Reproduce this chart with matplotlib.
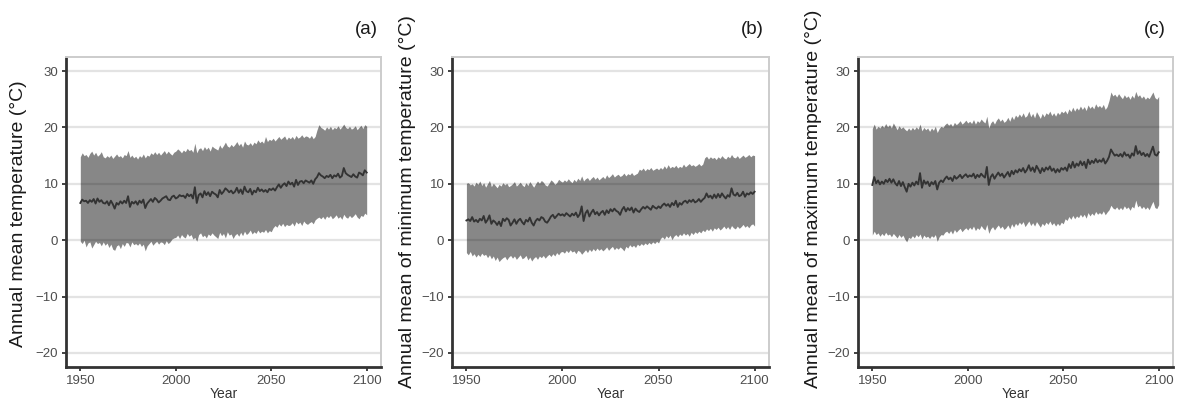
import numpy as np
import matplotlib
matplotlib.use("Agg")
import matplotlib.pyplot as plt

plt.rcParams['font.family'] = ['Liberation Sans', 'DejaVu Sans']

years = list(range(1950, 2101))

# Panel (a): annual mean temperature
mean_a = [
    6.6, 7.2, 6.9, 7.0, 6.6, 7.1, 6.8, 7.3, 6.5, 7.4,
    6.8, 7.1, 6.6, 6.5, 6.9, 6.2, 7.0, 6.4, 5.6, 6.6,
    6.3, 6.9, 6.5, 7.0, 6.6, 7.8, 5.9, 6.8, 6.5, 6.9,
    6.3, 7.0, 6.6, 7.2, 5.7, 6.5, 6.9, 7.3, 6.8, 7.5,
    7.2, 6.7, 7.0, 7.4, 7.6, 7.8, 7.2, 7.1, 7.7, 7.9,
    7.4, 7.6, 8.0, 7.8, 7.9, 7.5, 8.2, 7.8, 8.1, 7.4,
    9.4, 6.6, 8.0, 8.3, 7.6, 8.7, 8.0, 8.5, 7.8, 8.6,
    8.3, 8.1, 7.6, 8.9, 8.2, 8.6, 9.2, 8.9, 8.5, 8.8,
    8.3, 8.6, 9.3, 8.4, 9.0, 8.2, 9.5, 8.7, 8.5, 9.1,
    8.1, 8.8, 8.5, 9.3, 8.7, 9.0, 8.6, 8.9, 8.5, 9.1,
    8.9, 9.2, 8.8, 9.4, 9.9, 9.3, 9.8, 10.1, 9.6, 10.4,
    9.9, 10.2, 9.5, 10.7, 9.8, 10.4, 10.5, 10.1, 10.6, 10.4,
    10.2, 10.6, 10.0, 10.8, 11.2, 11.9, 11.5, 11.3, 11.0, 11.4,
    11.2, 11.6, 11.0, 11.5, 11.3, 11.8, 11.1, 11.4, 12.8, 11.9,
    11.6, 11.4, 11.2, 11.7, 11.3, 11.1, 12.0, 11.8, 11.5, 12.4,
    12.0]
upper_a = [
    14.8, 15.5, 15.0, 15.2, 14.7, 15.4, 15.8, 15.1, 15.6, 14.9,
    15.2, 15.7, 14.8, 14.6, 15.0, 14.7, 15.1, 14.5, 14.9, 15.3,
    14.8, 15.0, 14.6, 15.2, 15.0, 15.9, 14.7, 15.1, 14.6, 14.9,
    14.4, 15.0, 14.7, 15.3, 14.6, 15.1, 14.9, 15.5, 15.2, 15.7,
    15.2, 15.6, 15.1, 15.5, 15.9, 15.3, 15.8, 15.4, 15.1, 15.6,
    15.8, 16.2, 15.9, 15.5, 16.0, 15.7, 16.3, 15.9, 16.1, 15.6,
    17.2, 15.5, 16.2, 16.4, 15.9, 16.6, 16.1, 16.5, 15.8, 16.7,
    16.4, 16.2, 16.0, 16.9, 16.3, 16.8, 17.4, 16.7, 16.5, 17.0,
    16.6, 17.0, 17.5, 16.8, 17.2, 16.5, 17.6, 17.0, 16.9, 17.3,
    16.8, 17.4, 17.1, 17.8, 17.3, 17.6, 17.2, 18.4, 17.5, 17.9,
    17.7, 18.1, 17.6, 18.0, 18.4, 17.9, 18.2, 18.5, 17.8, 18.3,
    18.0, 18.4, 17.9, 18.6, 18.1, 18.3, 18.7, 18.2, 18.5, 18.4,
    18.1, 18.6, 18.0, 18.4, 19.6, 20.5, 20.0, 19.8, 19.5, 20.1,
    19.7, 20.2, 19.6, 20.0, 19.8, 20.3, 19.7, 20.1, 20.6, 20.0,
    19.8, 20.2, 19.7, 19.9, 20.3, 19.6, 20.0, 20.4, 19.8, 20.5,
    20.2]
lower_a = [
    -0.2, -0.6, 0.0, -1.2, -0.5, -0.3, -1.4, -0.8, -0.2, -0.6,
    -0.4, -1.0, -0.3, -0.9, -0.5, -1.3, -0.7, -1.6, -1.8, -1.0,
    -0.8, -1.5, -0.6, -1.1, -0.4, -0.5, -1.2, -0.3, -0.8, -0.6,
    -0.9, -0.5, -1.1, -0.7, -1.9, -1.0, -0.6, -0.2, -0.9, -0.5,
    -0.2, -0.7, -0.3, -0.4, -0.8, -0.1, -0.6, -0.3, 0.2, 0.4,
    0.5, 0.9, 0.3, 1.0, 0.6, 0.4, 1.2, 0.7, 1.0, 0.2,
    0.5, -0.2, 1.0, 1.3, 0.6, 0.9, 0.4, 1.1, 0.8, 1.3,
    0.9, 0.6, 0.3, 1.4, 0.8, 1.2, 0.4, 1.5, 0.9, 1.1,
    0.3, 0.9, 1.2, 0.7, 1.4, 0.8, 1.6, 1.0, 1.3, 1.8,
    1.1, 1.5, 1.2, 1.8, 1.3, 1.6, 1.4, 1.9, 1.3, 1.7,
    1.5, 2.2, 2.6, 2.3, 2.9, 2.5, 3.0, 2.4, 2.8, 2.6,
    2.7, 3.1, 2.5, 3.3, 2.9, 3.2, 2.6, 3.4, 3.0, 2.8,
    3.1, 3.3, 2.9, 3.6, 3.9, 4.1, 3.8, 4.2, 3.7, 4.3,
    4.0, 4.4, 3.8, 4.1, 4.5, 3.9, 4.2, 3.7, 4.6, 4.1,
    3.9, 4.4, 4.0, 4.3, 4.7, 4.1, 3.8, 4.4, 4.2, 4.8,
    4.5]

# Panel (b): annual mean of minimum temperature
mean_b = [
    3.5, 3.7, 3.4, 4.1, 3.3, 3.6, 3.2, 3.8, 3.5, 4.3,
    3.1, 3.6, 4.4, 2.9, 3.5, 3.2, 2.7, 3.3, 2.5, 3.8,
    3.4, 3.9, 3.6, 2.6, 3.1, 3.7, 2.9, 3.5, 3.8, 3.2,
    2.8, 3.6, 3.3, 4.0, 3.1, 2.6, 3.4, 3.8, 3.5, 4.1,
    3.9, 3.3, 3.1, 3.6, 4.2, 4.5, 3.9, 4.3, 4.7, 4.4,
    4.6, 4.3, 4.8, 4.5, 4.2, 4.7, 4.4, 4.9, 4.1, 4.6,
    6.0, 3.4, 4.8, 5.3, 4.2, 4.9, 5.4, 4.6, 5.0, 4.4,
    4.9, 5.2, 4.5, 5.3, 4.8, 5.5, 5.1, 5.6, 5.2, 5.0,
    4.5, 5.4, 5.9, 5.1, 5.7, 5.3, 5.8, 4.9, 5.6, 5.2,
    5.0, 5.5, 5.9, 5.6, 6.0, 5.7, 5.4, 6.1, 5.8, 5.6,
    6.0, 5.7, 6.2, 6.5, 6.1, 6.4, 5.9, 6.6, 6.2, 7.0,
    5.9, 6.6, 6.3, 6.8, 7.0, 6.6, 7.1, 6.8, 7.2, 6.7,
    6.9, 7.3, 6.8, 7.2, 7.5, 8.3, 7.6, 7.9, 7.4, 8.1,
    7.5, 8.2, 7.6, 8.3, 7.8, 7.4, 8.0, 7.7, 9.2, 8.1,
    7.9, 8.4, 7.8, 8.0, 8.6, 7.7, 8.3, 8.1, 8.5, 8.2,
    8.6]
upper_b = [
    10.1, 10.2, 9.8, 10.0, 9.6, 10.3, 9.9, 10.5, 9.7, 10.2,
    9.4, 10.0, 10.6, 9.5, 10.1, 9.7, 9.3, 9.9, 9.6, 10.2,
    9.8, 10.1, 9.5, 9.7, 10.0, 10.4, 9.6, 9.9, 10.3, 9.8,
    9.5, 10.2, 9.7, 10.4, 9.9, 9.4, 10.0, 10.5, 10.1, 10.6,
    10.3, 9.8, 9.6, 10.1, 10.7, 10.4, 9.9, 10.2, 10.8, 10.5,
    10.3, 10.7, 10.4, 10.9, 10.5, 10.2, 10.8, 10.4, 11.0, 10.6,
    11.4, 10.5, 10.9, 11.1, 10.6, 11.0, 11.3, 10.8, 11.2, 10.7,
    11.0, 11.3, 10.9, 11.6, 11.1, 11.4, 11.8, 11.2, 11.5, 11.7,
    11.3, 11.5, 11.9, 11.4, 11.8, 11.6, 12.0, 11.5, 11.7, 11.9,
    12.6, 12.4, 12.8, 12.3, 12.7, 12.5, 12.9, 12.4, 12.6, 12.8,
    12.5, 12.9, 12.6, 13.2, 12.7, 13.4, 12.8, 13.1, 12.9, 13.3,
    12.8, 13.1, 12.9, 13.5, 13.0, 13.3, 13.6, 13.2, 13.4, 13.1,
    13.3, 13.6, 13.2, 13.5, 14.6, 14.9, 14.4, 14.8, 14.5, 14.7,
    14.3, 14.8, 14.5, 15.0, 14.6, 14.4, 14.9, 14.6, 15.2, 14.7,
    14.6, 15.0, 14.5, 14.8, 15.1, 14.7, 14.9, 15.2, 14.8, 15.1,
    15.0]
lower_b = [
    -2.2, -2.6, -2.0, -2.8, -2.4, -3.0, -2.5, -2.9, -2.3, -2.7,
    -2.5, -3.1, -2.6, -3.3, -2.8, -3.6, -3.0, -3.8, -3.4, -3.1,
    -2.9, -3.5, -3.0, -2.7, -3.2, -2.8, -3.4, -3.0, -2.6, -3.3,
    -3.1, -2.7, -3.5, -3.0, -3.7, -3.2, -2.9, -3.4, -2.8, -3.1,
    -2.7, -3.2, -2.8, -2.5, -2.9, -2.4, -2.8, -2.2, -2.6, -2.1,
    -2.0, -2.3, -1.8, -2.2, -1.7, -2.1, -1.9, -2.4, -1.8, -2.0,
    -2.5, -2.1, -1.7, -2.2, -1.6, -2.0, -1.5, -1.9, -1.4, -1.8,
    -1.5, -1.9, -1.6, -1.2, -1.8, -1.4, -1.1, -1.7, -1.3, -1.6,
    -1.2, -1.5, -1.9, -1.1, -1.4, -0.8, -1.2, -0.9, -1.3, -0.7,
    -1.0, -0.6, -0.9, -0.5, -0.8, -0.4, -0.7, -0.3, -0.6, -0.2,
    -0.5, 0.3, 0.6, 0.2, 0.8, 0.4, 0.9, 0.1, 0.7, 1.0,
    0.6, 1.1, 0.8, 1.3, 0.9, 1.2, 0.7, 1.4, 1.0, 1.5,
    1.2, 1.6, 1.3, 1.8, 1.5, 2.0, 1.7, 2.1, 1.6, 2.2,
    1.9, 2.3, 1.8, 2.1, 2.5, 2.0, 2.4, 1.9, 2.6, 2.2,
    2.0, 2.5, 2.1, 2.4, 2.8, 2.3, 2.6, 2.2, 2.7, 2.9,
    2.5]

# Panel (c): annual mean of maximum temperature
mean_c = [
    9.8, 11.2, 10.1, 10.6, 9.9, 10.4, 10.0, 10.7, 10.3, 10.9,
    10.2, 10.8, 10.1, 9.7, 10.5, 9.6, 10.3, 9.4, 8.6, 10.0,
    9.5, 10.2, 9.7, 10.4, 9.9, 11.9, 9.3, 10.6, 10.0, 10.4,
    9.6, 10.3, 9.9, 10.5, 9.0, 10.2, 10.6, 10.3, 10.9, 11.3,
    10.8, 11.1, 10.5, 11.4, 10.9, 11.2, 11.6, 11.0, 11.4, 11.7,
    11.2, 11.5, 11.3, 11.8, 11.0, 11.6, 11.2, 11.8, 11.4, 11.1,
    13.0, 9.8, 11.2, 11.7, 10.9, 11.5, 12.0, 11.4, 11.8, 11.1,
    11.6, 12.1, 11.3, 12.3, 11.7, 12.4, 12.0, 12.6, 12.2, 12.8,
    12.0, 12.5, 13.3, 12.3, 12.9, 12.1, 13.2, 12.6, 11.9, 12.8,
    12.2, 12.9, 12.5, 13.1, 12.3, 12.7, 12.0, 12.6, 12.1, 12.8,
    12.5, 12.9, 12.3, 13.5, 12.8, 13.9, 12.9, 13.6, 13.2, 14.0,
    13.3, 13.9, 12.8, 14.3, 13.5, 14.1, 13.7, 14.4, 13.8, 14.2,
    13.9, 14.5, 13.6, 14.1, 14.8, 16.1, 15.5, 15.0, 15.2, 14.9,
    15.3, 14.8, 15.6, 15.0, 15.2, 14.6, 15.4, 15.0, 16.7, 15.3,
    15.8, 15.1, 15.5, 14.9, 15.3, 14.8, 15.7, 16.6, 15.2, 15.0,
    15.6]
upper_c = [
    19.8, 20.6, 19.7, 20.2, 19.9, 20.4, 20.0, 20.7, 20.1, 20.5,
    19.9, 20.8, 20.2, 19.6, 20.3, 19.8, 20.1, 19.7, 19.4, 19.9,
    19.5, 20.0, 19.6, 20.1, 19.7, 20.6, 19.4, 20.0, 19.6, 19.9,
    19.3, 19.9, 19.5, 20.2, 19.1, 19.8, 20.2, 20.0, 20.5, 20.8,
    20.4, 20.7, 20.2, 20.9, 20.5, 20.8, 21.2, 20.6, 20.9, 21.3,
    20.8, 21.1, 20.7, 21.4, 20.6, 21.2, 20.9, 21.5, 21.1, 20.8,
    22.0, 19.9, 20.8, 21.2, 20.6, 21.3, 21.7, 21.1, 21.5, 20.9,
    21.2, 21.8, 21.1, 22.0, 21.4, 22.2, 21.8, 22.4, 21.9, 22.6,
    21.8, 22.1, 22.9, 21.9, 22.5, 21.7, 22.8, 22.2, 21.6, 22.5,
    21.9, 22.6, 22.3, 22.9, 22.1, 22.6, 22.0, 22.7, 22.3, 22.9,
    22.6, 23.0, 22.4, 23.3, 22.8, 23.6, 22.9, 23.5, 23.1, 23.8,
    23.2, 23.7, 23.0, 24.0, 23.4, 23.8, 23.3, 24.2, 23.6, 23.9,
    23.5, 24.1, 23.2, 23.7, 24.8, 26.3, 25.6, 25.9, 25.4, 26.0,
    25.5, 25.1, 25.8, 25.3, 25.6, 25.0, 25.7, 25.2, 26.4, 25.5,
    25.8, 25.2, 25.6, 25.0, 25.4, 25.1, 25.7, 26.3, 25.3, 25.0,
    25.5]
lower_c = [
    0.9, 1.6, 1.0, 1.3, 0.7, 1.2, 0.8, 1.4, 0.9, 1.1,
    0.6, 1.2, 0.8, 0.4, 1.0, 0.5, 0.9, 0.2, -0.3, 0.5,
    0.3, 0.8, 0.4, 1.0, 0.6, 1.1, 0.2, 0.9, 0.5, 0.7,
    0.3, 0.8, 0.5, 1.0, -0.2, 0.6, 1.0, 0.9, 1.4, 1.6,
    1.2, 1.7, 1.1, 1.9, 1.4, 1.8, 2.1, 1.5, 1.9, 2.2,
    1.8, 2.3, 1.9, 2.5, 1.7, 2.2, 1.9, 2.6, 2.1, 1.8,
    2.8, 1.2, 2.0, 2.4, 1.8, 2.3, 2.7, 2.1, 2.5, 1.9,
    2.2, 2.7, 2.0, 2.9, 2.3, 3.0, 2.6, 3.2, 2.8, 3.3,
    2.4, 2.9, 3.4, 2.6, 3.1, 2.5, 3.3, 2.8, 2.3, 3.0,
    2.6, 3.2, 2.8, 3.4, 2.7, 3.1, 2.5, 3.0, 2.6, 3.2,
    2.9, 3.8, 3.5, 4.2, 3.7, 4.4, 3.8, 4.3, 4.0, 4.6,
    4.1, 4.6, 3.9, 4.9, 4.3, 4.8, 4.4, 5.1, 4.6, 4.9,
    4.6, 5.2, 4.5, 5.0, 5.4, 6.2, 5.7, 5.5, 5.9, 5.4,
    5.8, 5.4, 6.1, 5.6, 5.9, 5.3, 6.0, 5.7, 7.1, 5.9,
    6.2, 5.6, 6.0, 5.5, 5.9, 5.4, 6.2, 6.9, 5.8, 5.6,
    6.3]

y_labels = ["Annual mean temperature (°C)",
            "Annual mean of minimum temperature (°C)",
            "Annual mean of maximum temperature (°C)"]
panel_tags = ["(a)", "(b)", "(c)"]
x_ticks = [1950, 2000, 2050, 2100]
y_ticks = [-20, -10, 0, 10, 20, 30]
y_tick_labels = ["\u221220", "\u221210", "0", "10", "20", "30"]

W, H = 1181, 403
fig = plt.figure(figsize=(W / 100, H / 100), dpi=100)

# axes boxes in pixels: left, right, top, bottom
boxes = [(66, 381, 57, 367), (452, 769, 57, 367), (858, 1173, 57, 367)]
ylab_x = [19, 408, 814]
ylab_bottom = [347, 388, 388]
tag_x = [378, 764, 1166]

series = [(mean_a, lower_a, upper_a), (mean_b, lower_b, upper_b), (mean_c, lower_c, upper_c)]

for i, (l, r, t, b) in enumerate(boxes):
    ax = fig.add_axes([l / W, 1 - b / H, (r - l) / W, (b - t) / H])
    m, lo, up = series[i]
    ax.set_axisbelow(True)
    ax.yaxis.grid(True, color='#e3e3e3', linewidth=1.6)
    ax.fill_between(years, lo, up, color='black', alpha=0.47, linewidth=0, zorder=2)
    ax.plot(years, m, color='#333333', linewidth=1.35, zorder=3)
    ax.set_xlim(1942.5, 2107.5)
    ax.set_ylim(-22.5, 32.5)
    ax.set_xticks(x_ticks)
    ax.set_yticks(y_ticks)
    ax.set_yticklabels(y_tick_labels)
    ax.tick_params(axis='both', labelsize=9.5, labelcolor='#4d4d4d', color='#333333',
                   length=3, width=1.3, pad=2.5)
    for side in ['left', 'bottom']:
        ax.spines[side].set_color('#333333')
        ax.spines[side].set_linewidth(2.0)
    for side in ['top', 'right']:
        ax.spines[side].set_color('#cccccc')
        ax.spines[side].set_linewidth(1.4)
    ax.set_xlabel("Year", fontsize=10, color='#333333', labelpad=0)
    fig.text(ylab_x[i] / W, 1 - ylab_bottom[i] / H, y_labels[i], rotation=90,
             ha='center', va='bottom', fontsize=14, color='#1a1a1a')
    fig.text(tag_x[i] / W, 1 - 30 / H, panel_tags[i], ha='right', va='center',
             fontsize=13.5, color='#1a1a1a')

fig.savefig("out.png", dpi=100)
